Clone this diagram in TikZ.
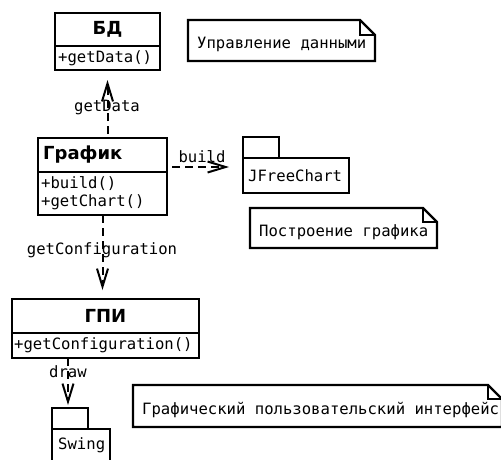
\documentclass[tikz,border=0pt]{standalone}
\usepackage{fontspec}
\setmainfont{DejaVu Sans}
\newfontfamily\monof{DejaVu Sans Mono}
\usetikzlibrary{arrows.meta,calc}
\begin{document}
\begin{tikzpicture}[x=1pt,y=-1pt,
  mono/.style={font=\monof\fontsize{15.6}{18}\selectfont, inner sep=0pt},
  cname/.style={font=\bfseries\fontsize{18}{21}\selectfont, inner sep=0pt},
  box/.style={draw, line width=2.2pt, inner sep=0pt, outer sep=0pt},
  blank/.style={inner sep=0pt, outer sep=0pt},
  notepath/.style={line width=2.2pt, line join=miter},
  dep/.style={line width=2pt, dash pattern=on 8pt off 5pt,
    -{Straight Barb[length=18pt,width=11pt,line width=2pt]}}]
\clip (0,0) rectangle (501,459);
\fill[white] (0,0) rectangle (501,459);

% ---- БД
\node[box, minimum width=105pt, minimum height=33pt] (bdh) at (107.5,29.5) {};
\node[cname] (bdn) at (bdh) {БД};
\node[box, minimum width=105pt, minimum height=24pt, anchor=north] (bdb) at (bdh.south) {};
\node[mono, anchor=west] (bdm) at ($(bdb.west)+(3,0)$) {+getData()};

% ---- График
\node[box, minimum width=129pt, minimum height=34pt] (grh) at (102.5,155) {};
\node[cname, anchor=west] (grn) at ($(grh.west)+(5,0)$) {График};
\node[box, minimum width=129pt, minimum height=43pt, anchor=north] (grb) at (grh.south) {};
\node[mono, anchor=west] (grm1) at ($(grb.west)+(3,-10)$) {+build()};
\node[mono, anchor=west] (grm2) at ($(grb.west)+(3,9)$) {+getChart()};

% ---- ГПИ
\node[box, minimum width=187pt, minimum height=34pt] (gph) at (105.5,316) {};
\node[cname] (gpn) at (gph) {ГПИ};
\node[box, minimum width=187pt, minimum height=25pt, anchor=north] (gpb) at (gph.south) {};
\node[mono, anchor=west] (gpm) at ($(gpb.west)+(2,0)$) {+getConfiguration()};

% ---- JFreeChart package
\node[box, minimum width=36pt, minimum height=21pt] (jtab) at (261,147.5) {};
\node[box, minimum width=106pt, minimum height=35pt, anchor=north west] (jbody) at (jtab.south west) {};
\node[mono, anchor=west] (jtxt) at ($(jbody.west)+(5,0)$) {JFreeChart};

% ---- Swing package
\node[box, minimum width=36pt, minimum height=21pt] (stab) at (70,418.5) {};
\node[box, minimum width=58pt, minimum height=40pt, anchor=north west] (sbody) at (stab.south west) {};
\node[mono, anchor=west] (stxt) at ($(sbody.north west)+(6,16)$) {Swing};

% ---- notes
\node[blank, minimum width=187pt, minimum height=41pt] (n1) at (281.5,40.5) {};
\draw[notepath] (n1.north west) -- ($(n1.north east)+(-15,0)$) -- ($(n1.north east)+(0,15)$) -- (n1.south east) -- (n1.south west) -- cycle;
\draw[line width=1.2pt] ($(n1.north east)+(-15,0)$) -- ++(0,15) -- ++(15,0);
\node[mono, anchor=west] (n1t) at ($(n1.west)+(9,3.5)$) {Управление данными};

\node[blank, minimum width=187pt, minimum height=40pt] (n2) at (343.5,228) {};
\draw[notepath] (n2.north west) -- ($(n2.north east)+(-14,0)$) -- ($(n2.north east)+(0,14)$) -- (n2.south east) -- (n2.south west) -- cycle;
\draw[line width=1.2pt] ($(n2.north east)+(-14,0)$) -- ++(0,14) -- ++(14,0);
\node[mono, anchor=west] (n2t) at ($(n2.west)+(9,4)$) {Построение графика};

\node[blank, minimum width=369pt, minimum height=42pt] (n3) at (317.5,406) {};
\draw[notepath] (n3.north west) -- ($(n3.north east)+(-14,0)$) -- ($(n3.north east)+(0,14)$) -- (n3.south east) -- (n3.south west) -- cycle;
\draw[line width=1.2pt] ($(n3.north east)+(-14,0)$) -- ++(0,14) -- ++(14,0);
\node[mono, anchor=west] (n3t) at ($(n3.west)+(9,4)$) {Графический пользовательский интерфейс};

% ---- connectors
\draw[dep, shorten <=4pt, shorten >=10pt] (grh.north -| bdb.south) -- (bdb.south);
\node[mono] (l1) at (107,107) {getData};

\draw[dep, shorten <=5pt, shorten >=14pt] ($(grh.east)+(0,12)$) -- ($(grh.east -| jbody.west)+(0,12)$);
\node[mono] (l2) at (202,157) {build};

\draw[dep, shorten >=9pt] (grb.south) -- (grb.south |- gph.north);
\node[mono] (l3) at (102,250) {getConfiguration};

\draw[dep, shorten >=3pt] (gpb.south -| 68,0) -- (stab.north -| 68,0);
\node[mono] (l4) at (68,372) {draw};
\end{tikzpicture}
\end{document}
